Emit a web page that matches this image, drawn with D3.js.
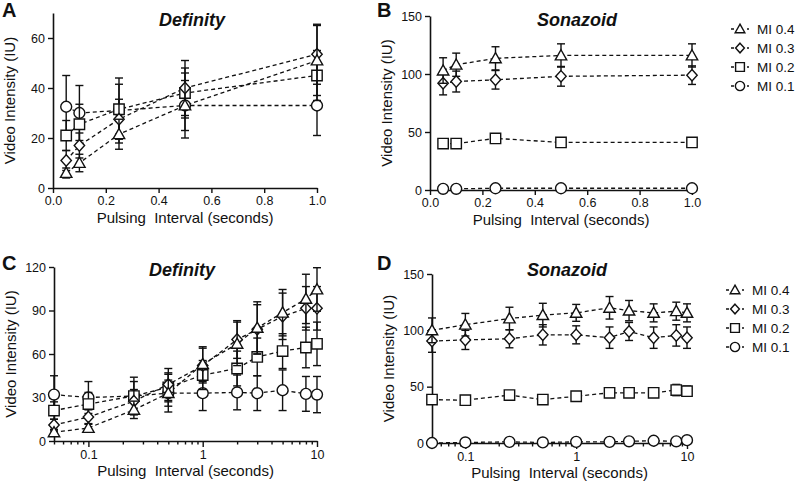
<!DOCTYPE html>
<html>
<head>
<meta charset="utf-8">
<script src="https://cdn.jsdelivr.net/npm/d3@7"></script>
<style>
  body { margin: 0; background: #fff; }
  svg { display: block; }
  text { font-family: Arial, "Liberation Sans", sans-serif; fill: #111; }
</style>
</head>
<body>
<svg id="chart" width="800" height="485"></svg>
<script>
// series, in legend order
const seriesNames = ["MI 0.4", "MI 0.3", "MI 0.2", "MI 0.1"];
const seriesSymbols = ["triangle", "diamond", "square", "circle"];

// pulsing intervals (seconds)
const xShort = [0.05, 0.1, 0.25, 0.5, 1.0];
const xLong = [0.05, 0.1, 0.25, 0.5, 1, 2, 3, 5, 8, 10];

// tick labels
const xTicksLinear = [0, 0.2, 0.4, 0.6, 0.8, 1.0];
const xTicksLog = [0.1, 1, 10];
const yTicksA = [0, 20, 40, 60];
const yTicksB = [0, 50, 100, 150];
const yTicksC = [0, 30, 60, 90, 120];
const yTicksD = [0, 50, 100, 150];

// A - Definity, short intervals
const defA_mean = [
  [6, 10, 21.5, 33, 51],
  [11, 17, 27.5, 40, 53.5],
  [21, 25.5, 31.5, 38, 45],
  [32.5, 30, 31, 33, 33]
];
const defA_err = [
  [2, 3.5, 6, 10, 14],
  [4, 5, 8, 11, 12],
  [6, 8, 10, 10, 10],
  [12.5, 11, 13, 13, 12]
];

// B - Sonazoid, short intervals
const sonB_mean = [
  [103, 108, 113.5, 116, 116],
  [92, 93.5, 95, 98, 99],
  [40, 40, 44.5, 41, 41],
  [1, 1, 1.5, 1.5, 1.5]
];
const sonB_err = [
  [11, 10, 10, 10, 10],
  [10, 9, 8, 8.5, 8],
  [3, 2.5, 4, 2, 3.5],
  [0.5, 0.5, 0.5, 0.5, 0.5]
];

// C - Definity, long intervals
const defC_mean = [
  [6, 9, 21.5, 33, 53, 67, 78, 88.5, 98, 104.5],
  [11, 16.5, 27.5, 39, 52, 70, 77, 86, 91.5, 91.5],
  [21, 25.5, 31, 37, 45.5, 50, 58, 62, 64.5, 67],
  [32, 30, 31, 33, 33, 33.5, 33, 35, 32.5, 32]
];
const defC_err = [
  [2, 3, 6, 9, 12, 15, 18, 16, 17, 15],
  [4, 5, 8, 11, 12, 13, 17, 16, 15, 15],
  [6, 8, 10, 10, 10, 12, 13, 12, 14, 15],
  [13, 11, 13, 13, 12, 12, 12, 14, 12, 12.5]
];

// D - Sonazoid, long intervals
const sonD_mean = [
  [100, 105, 110.5, 113.5, 115.5, 120, 117.5, 115.5, 117, 115.5],
  [90.5, 91.5, 92.5, 96, 96, 93.5, 99, 93.5, 95.5, 93.5],
  [38.5, 38, 42.5, 38.5, 41.5, 44.5, 44.5, 44.5, 47, 46],
  [0, 0.5, 1, 0.5, 1, 1, 1.5, 2, 1.5, 2.5]
];
const sonD_err = [
  [11, 10, 10, 10.5, 7.5, 10, 9, 8, 8, 8],
  [10, 8.5, 8, 9, 8, 9.5, 8, 9.5, 9.5, 9.5],
  [3, 2, 3.5, 2, 3, 4, 3.5, 3.5, 5, 4.5],
  [0.5, 0.5, 0.5, 0.5, 0.5, 0.5, 0.5, 0.5, 0.5, 0.5]
];

const svg = d3.select("#chart");
const ink = "#111";

function symbolPath(type, s) {
  if (type === "triangle") return `M0,${-s * 1.1}L${s * 1.1},${s * 0.85}L${-s * 1.1},${s * 0.85}Z`;
  if (type === "diamond") return `M0,${-s * 1.1}L${s},0L0,${s * 1.1}L${-s},0Z`;
  if (type === "square") return `M${-s},${-s}H${s}V${s}H${-s}Z`;
  return d3.arc()({ innerRadius: 0, outerRadius: s * 1.05, startAngle: 0, endAngle: 2 * Math.PI });
}

function styleAxis(g) {
  g.select(".domain").attr("stroke", ink).attr("stroke-width", 1.6);
  g.selectAll(".tick line").attr("stroke", ink).attr("stroke-width", 1.4);
  g.selectAll(".tick text").attr("fill", ink).attr("font-size", 12.5)
    .attr("font-family", 'Arial, "Liberation Sans", sans-serif');
}

function drawPanel(p) {
  const g = svg.append("g");
  const x = p.log
    ? d3.scaleLog().domain([0.05, 10]).range(p.xRange)
    : d3.scaleLinear().domain([0, 1]).range(p.xRange);
  const y = d3.scaleLinear().domain(p.yDomain).range(p.yRange);
  const y0 = p.yRange[0];

  // x axis
  if (p.log) {
    const minor = x.ticks().filter(t => !xTicksLog.includes(t));
    g.append("g")
      .attr("transform", `translate(0,${y0})`)
      .call(d3.axisBottom(x).tickValues(minor).tickSize(3.5).tickSizeOuter(0).tickFormat(""))
      .call(styleAxis);
    g.append("g")
      .attr("transform", `translate(0,${y0})`)
      .call(d3.axisBottom(x).tickValues(xTicksLog).tickSize(6).tickSizeOuter(0).tickFormat(d => d))
      .call(styleAxis)
      .call(a => a.select(".domain").remove());
  } else {
    g.append("g")
      .attr("transform", `translate(0,${y0})`)
      .call(d3.axisBottom(x).tickValues(xTicksLinear).tickSize(5).tickSizeOuter(0).tickFormat(d3.format(".1f")))
      .call(styleAxis);
  }

  // y axis
  g.append("g")
    .attr("transform", `translate(${p.xRange[0]},0)`)
    .call(d3.axisLeft(y).tickValues(p.yTicks).tickSize(5).tickSizeOuter(0))
    .call(styleAxis);

  // labels
  g.append("text").attr("x", p.letter[1]).attr("y", p.letter[2])
    .attr("font-size", 20).attr("font-weight", "bold").text(p.letter[0]);
  g.append("text").attr("x", p.title[1]).attr("y", p.title[2])
    .attr("text-anchor", "middle").attr("font-size", 18)
    .attr("font-weight", "bold").attr("font-style", "italic").text(p.title[0]);
  g.append("text")
    .attr("transform", `translate(${p.xRange[0] - 38},${(p.yRange[0] + p.yRange[1]) / 2}) rotate(-90)`)
    .attr("text-anchor", "middle").attr("font-size", 15).text("Video Intensity (IU)");
  g.append("text")
    .attr("x", (p.xRange[0] + p.xRange[1]) / 2).attr("y", y0 + 35)
    .attr("text-anchor", "middle").attr("font-size", 15)
    .style("white-space", "pre").text("Pulsing  Interval (seconds)");

  const line = d3.line().x(d => x(d[0])).y(d => y(d[1]));

  // dashed connecting lines
  p.mean.forEach(vals => {
    g.append("path")
      .datum(p.xs.map((xv, i) => [xv, vals[i]]))
      .attr("d", line)
      .attr("fill", "none").attr("stroke", ink)
      .attr("stroke-width", 1.3).attr("stroke-dasharray", "4,3");
  });

  // error bars + symbols, MI 0.1 drawn first
  for (let s = p.mean.length - 1; s >= 0; s--) {
    const pts = p.xs.map((xv, i) => ({ x: xv, v: p.mean[s][i], e: p.err[s][i] }));
    const eb = g.append("g").attr("stroke", ink).attr("stroke-width", 1.4);
    pts.forEach(d => {
      const cx = x(d.x);
      const top = y(d.v + d.e), bot = y(Math.max(0, d.v - d.e));
      eb.append("line").attr("x1", cx).attr("x2", cx).attr("y1", top).attr("y2", bot);
      eb.append("line").attr("x1", cx - 4).attr("x2", cx + 4).attr("y1", top).attr("y2", top);
      if (d.v - d.e > 0)
        eb.append("line").attr("x1", cx - 4).attr("x2", cx + 4).attr("y1", bot).attr("y2", bot);
    });
    g.append("g").selectAll("path")
      .data(pts)
      .join("path")
      .attr("transform", d => `translate(${x(d.x)},${y(d.v)})`)
      .attr("d", symbolPath(seriesSymbols[s], 5.2))
      .attr("fill", "#fff").attr("stroke", ink).attr("stroke-width", 1.4);
  }
}

function drawLegend(lx, ly, step) {
  const g = svg.append("g");
  seriesNames.forEach((name, i) => {
    const cy = ly + i * step;
    g.append("line").attr("x1", lx - 9).attr("x2", lx + 9).attr("y1", cy).attr("y2", cy)
      .attr("stroke", ink).attr("stroke-width", 1.3).attr("stroke-dasharray", "3,5");
    g.append("path").attr("transform", `translate(${lx},${cy})`)
      .attr("d", symbolPath(seriesSymbols[i], 4.4))
      .attr("fill", "#fff").attr("stroke", ink).attr("stroke-width", 1.4);
    g.append("text").attr("x", lx + 17).attr("y", cy + 5)
      .attr("font-size", 13.5).text(name);
  });
}

drawPanel({ log: false, xs: xShort, mean: defA_mean, err: defA_err,
  xRange: [53, 317], yDomain: [0, 70], yRange: [188, 13], yTicks: yTicksA,
  letter: ["A", 2, 17], title: ["Definity", 192, 26] });
drawPanel({ log: false, xs: xShort, mean: sonB_mean, err: sonB_err,
  xRange: [430, 692], yDomain: [0, 150], yRange: [190, 16], yTicks: yTicksB,
  letter: ["B", 377, 17], title: ["Sonazoid", 577, 26] });
drawPanel({ log: true, xs: xLong, mean: defC_mean, err: defC_err,
  xRange: [54, 317], yDomain: [0, 120], yRange: [441, 267], yTicks: yTicksC,
  letter: ["C", 2, 270], title: ["Definity", 182, 276] });
drawPanel({ log: true, xs: xLong, mean: sonD_mean, err: sonD_err,
  xRange: [432, 687], yDomain: [0, 150], yRange: [443, 274], yTicks: yTicksD,
  letter: ["D", 377, 270], title: ["Sonazoid", 567, 276] });

drawLegend(740, 29, 19);
drawLegend(735, 290, 19);
</script>
</body>
</html>
